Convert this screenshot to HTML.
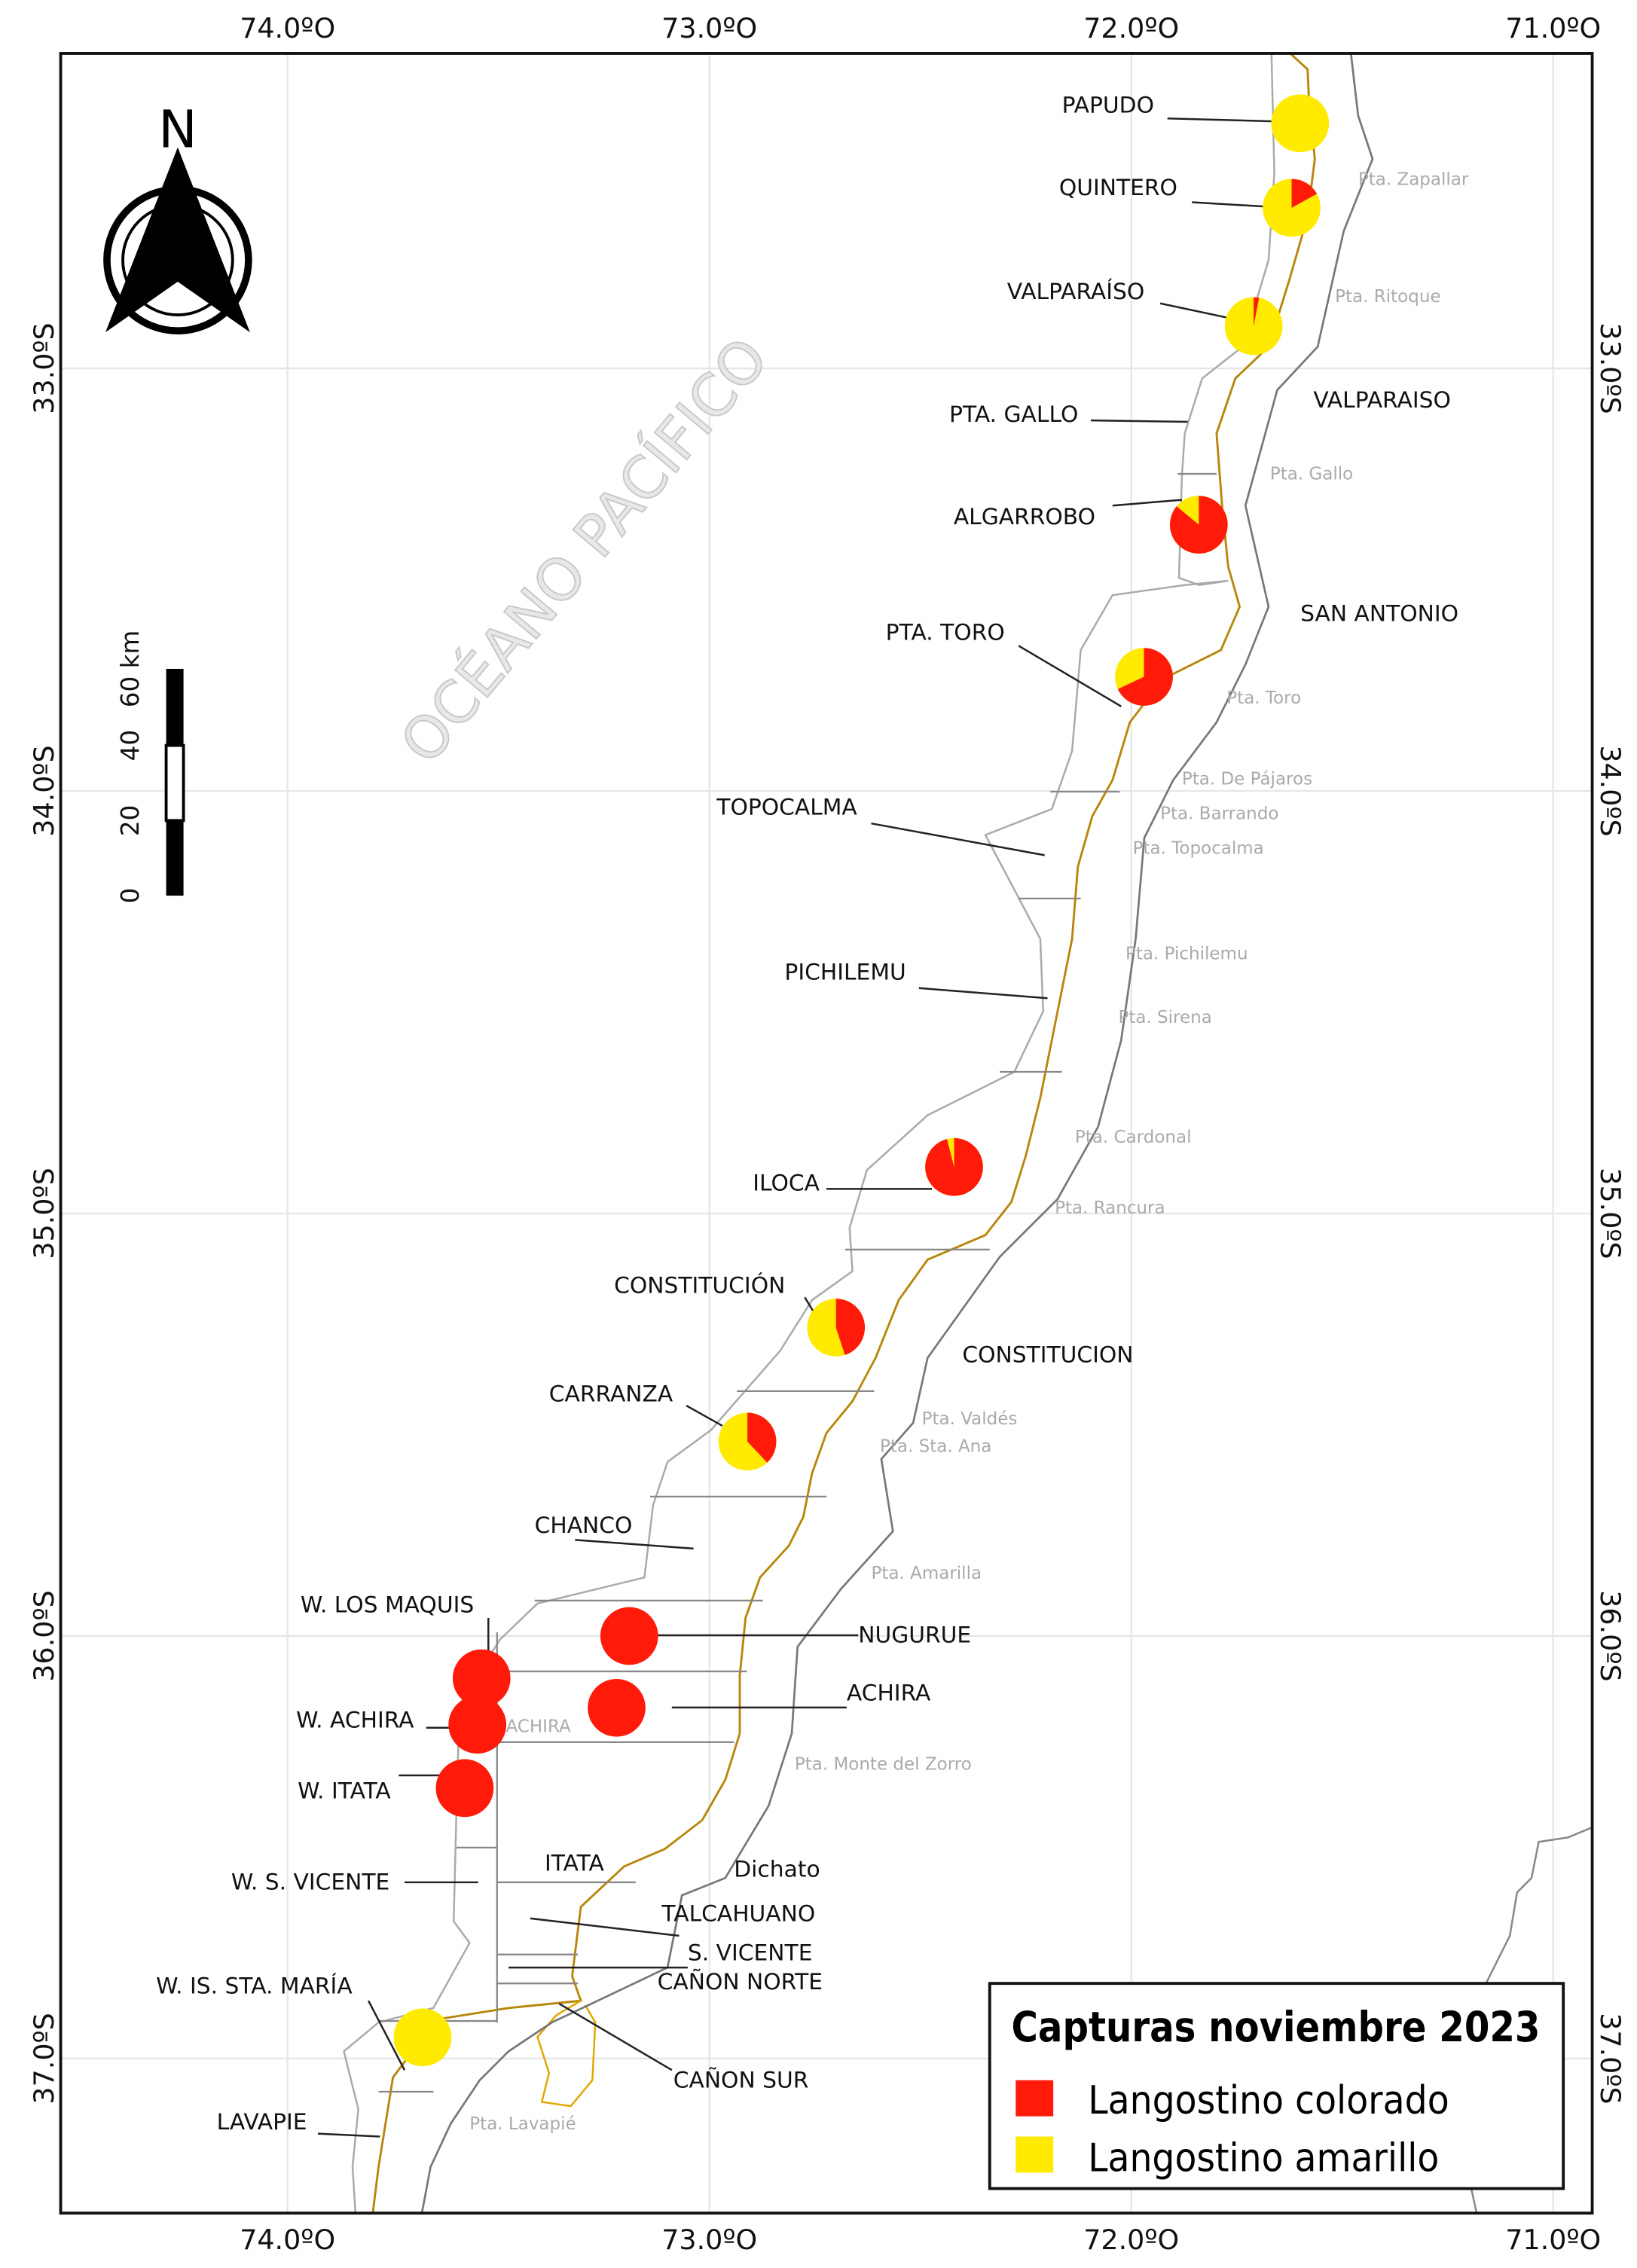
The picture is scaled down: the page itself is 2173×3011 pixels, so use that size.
<!DOCTYPE html>
<html><head><meta charset="utf-8"><style>
html,body{margin:0;padding:0;background:#fff}
svg{display:block}
text{font-family:"DejaVu Sans","Liberation Sans",sans-serif}
</style></head><body>
<svg id="map" width="2173" height="3011" viewBox="0 0 1133 1570" preserveAspectRatio="none" xmlns="http://www.w3.org/2000/svg">
<rect width="1133" height="1570" fill="#fff"/>
<g id="grid" stroke="#e6e6e6" stroke-width="1.2"></g>
<g fill="none">
<polyline stroke="#aaa" stroke-width="1.3" points="880,37 882,120 878,180 860,240 832,262 820,300 818,330 816,400 830,405 850,402 820,405 770,412 748,450 742,520 728,560 682,578 700,612 720,650 722,700 702,742 642,772 600,810 588,850 590,880 562,900 540,935 492,990 462,1012 452,1042 446,1092 372,1110 346,1135 318,1180 316,1250 314,1330 325,1345 300,1390 262,1400 238,1420 248,1460 244,1500 246,1532"/>
<polyline stroke="#b8860b" stroke-width="1.5" points="893,37 905,48 906,70 910,110 905,150 892,195 878,240 855,262 842,300 846,352 850,392 858,420 845,450 805,470 782,500 770,540 756,565 746,600 742,650 732,700 720,760 710,800 700,832 682,855 642,872 622,900 606,940 590,970 572,992 562,1020 556,1050 546,1070 526,1092 516,1120 512,1160 512,1200 502,1232 486,1260 460,1280 432,1292 402,1320 396,1368 402,1385 352,1390 302,1398 272,1438 262,1500 258,1532"/>
<polyline stroke="#e0a800" stroke-width="1.3" points="402,1385 385,1395 372,1410 380,1435 375,1455 395,1458 410,1440 412,1400 405,1388"/>
<polyline stroke="#777" stroke-width="1.4" points="935,37 940,80 950,110 930,160 912,240 884,270 862,350 878,420 862,460 842,500 812,540 792,580 786,650 776,720 760,780 732,830 692,870 642,940 632,985 610,1010 618,1060 582,1100 552,1140 548,1200 532,1250 502,1300 472,1312 462,1362 420,1382 382,1400 352,1420 332,1440 312,1470 298,1500 292,1532"/>
<polyline stroke="#888" stroke-width="1.3" points="1102,1265 1085,1272 1065,1275 1060,1300 1050,1310 1045,1340 1025,1380 1010,1440 1015,1500 1022,1532"/>
</g>
<g stroke="#888" stroke-width="1.2">
<line x1="815" y1="328" x2="842" y2="328"/><line x1="727" y1="548" x2="775" y2="548"/><line x1="705" y1="622" x2="748" y2="622"/><line x1="692" y1="742" x2="735" y2="742"/><line x1="585" y1="865" x2="685" y2="865"/><line x1="510" y1="963" x2="605" y2="963"/><line x1="450" y1="1036" x2="572" y2="1036"/><line x1="370" y1="1108" x2="528" y2="1108"/><line x1="345" y1="1157" x2="517" y2="1157"/><line x1="345" y1="1206" x2="508" y2="1206"/><line x1="344" y1="1130" x2="344" y2="1400"/><line x1="316" y1="1279" x2="344" y2="1279"/><line x1="344" y1="1303" x2="440" y2="1303"/><line x1="344" y1="1353" x2="400" y2="1353"/><line x1="344" y1="1373" x2="400" y2="1373"/><line x1="262" y1="1399" x2="344" y2="1399"/><line x1="262" y1="1448" x2="300" y2="1448"/>
</g>
<text transform="translate(415,390) rotate(-50)" text-anchor="middle" font-size="40" fill="#e8e8e8" stroke="#c8c8c8" stroke-width="1">OCÉANO PACÍFICO</text>
<g id="placelabels" font-size="12" fill="#aaa"></g>
<g id="leaders" stroke="#222" stroke-width="1.3"></g>
<g id="pies"></g>
<g id="zlabels" font-size="15.5" fill="#111"></g>
<rect x="42" y="37" width="1060" height="1495" fill="none" stroke="#111" stroke-width="2"/>
<g id="ticks" font-size="19" fill="#111"></g>
<g>
<text x="123" y="102" font-size="36" text-anchor="middle" fill="#000">N</text>
<circle cx="123" cy="180" r="49" fill="none" stroke="#000" stroke-width="5"/>
<circle cx="123" cy="180" r="38" fill="none" stroke="#000" stroke-width="2"/>
<polygon points="123,102 173,230 123,195 73,230" fill="#000"/>
</g>
<g>
<rect x="115" y="463" width="12" height="53" fill="#000"/><rect x="115" y="516" width="12" height="52" fill="#fff" stroke="#000" stroke-width="2"/><rect x="115" y="568" width="12" height="52" fill="#000"/>
<g font-size="17" fill="#111">
<text transform="translate(96,620) rotate(-90)" text-anchor="middle">0</text>
<text transform="translate(96,568) rotate(-90)" text-anchor="middle">20</text>
<text transform="translate(96,516) rotate(-90)" text-anchor="middle">40</text>
<text transform="translate(96,463) rotate(-90)" text-anchor="middle">60 km</text>
</g></g>
<g>
<rect x="685" y="1373" width="397" height="142" fill="#fff" stroke="#111" stroke-width="2"/>
<text x="700" y="1413" font-family="Liberation Sans" font-weight="bold" font-size="29" fill="#000" textLength="366" lengthAdjust="spacingAndGlyphs">Capturas noviembre 2023</text>
<rect x="703" y="1440" width="26" height="25" fill="#ff1a0a"/>
<text x="753" y="1463" font-size="27" fill="#000" textLength="250" lengthAdjust="spacingAndGlyphs">Langostino colorado</text>
<rect x="703" y="1479" width="26" height="25" fill="#ffea00"/>
<text x="753" y="1503" font-size="27" fill="#000" textLength="243" lengthAdjust="spacingAndGlyphs">Langostino amarillo</text>
</g>
</svg>
<script>
const siteNames=["PAPUDO","QUINTERO","VALPARAÍSO","ALGARROBO","PTA. TORO","ILOCA","CONSTITUCIÓN","CARRANZA","NUGURUE","ACHIRA","W. LOS MAQUIS","W. ACHIRA","W. ITATA","W. IS. STA. MARÍA"];
const siteLon=[71.60,71.62,71.71,71.84,71.97,72.42,72.70,72.91,73.19,73.22,73.54,73.55,73.58,73.68];
const siteLat=[32.42,32.62,32.90,33.37,33.73,34.89,35.27,35.54,36.00,36.17,36.10,36.21,36.36,36.95];
const coloradoShare=[0,0.17,0.03,0.86,0.68,0.96,0.45,0.38,1,1,1,1,1,0];
const lonTicks=[74,73,72,71];
const latTicks=[33,34,35,36,37];
const NS="http://www.w3.org/2000/svg";
function xS(lon){return 199+(74-lon)*292;}
function yS(lat){return 255+(lat-33)*292.5;}
function mk(tag,attrs,parent){const e=document.createElementNS(NS,tag);for(const k in attrs)e.setAttribute(k,attrs[k]);parent.appendChild(e);return e;}
const grid=document.getElementById('grid'),ticks=document.getElementById('ticks');
lonTicks.forEach(l=>{const x=xS(l);
 const g=mk('line',{x1:x,y1:37,x2:x,y2:1532},grid);
 
 
 [26,1557].forEach(y=>{const t=mk('text',{x:x,y:y,'text-anchor':'middle'},ticks);t.textContent=l.toFixed(1)+'ºO';
 
 });});
latTicks.forEach(l=>{const y=yS(l);
 const g=mk('line',{x1:42,y1:y,x2:1102,y2:y},grid);
 
 
 const t1=mk('text',{transform:`translate(37,${y}) rotate(-90)`,'text-anchor':'middle'},ticks);t1.textContent=l.toFixed(1)+'ºS';
 
 
 const t2=mk('text',{transform:`translate(1108,${y}) rotate(90)`,'text-anchor':'middle'},ticks);t2.textContent=l.toFixed(1)+'ºS';
 
 });
const pies=document.getElementById('pies');const R=20;
siteNames.forEach((n,i)=>{const cx=xS(siteLon[i]),cy=yS(siteLat[i]),f=coloradoShare[i];
 const g=mk('g',{},pies);
 
 
 if(f<=0){mk('circle',{cx,cy,r:R,fill:'#ffea00'},g);return;}
 if(f>=1){mk('circle',{cx,cy,r:R,fill:'#ff1a0a'},g);return;}
 mk('circle',{cx,cy,r:R,fill:'#ffea00'},g);
 const a=f*2*Math.PI,ex=cx+R*Math.sin(a),ey=cy-R*Math.cos(a);
 mk('path',{d:`M${cx},${cy} L${cx},${cy-R} A${R},${R} 0 ${f>0.5?1:0} 1 ${ex},${ey} Z`,fill:'#ff1a0a'},g);});
const zl=[["PAPUDO",735,78,808,82,882,84],["QUINTERO",733,135,825,140,876,143],["VALPARAÍSO",697,207,803,210,850,220],["PTA. GALLO",657,292,755,291,822,292],["ALGARROBO",660,363,770,350,818,346],["PTA. TORO",613,443,705,447,776,489],["TOPOCALMA",496,564,603,570,723,592],["PICHILEMU",543,678,636,684,725,691],["ILOCA",521,824,572,823,645,823],["CONSTITUCIÓN",425,895,557,898,563,908],["CARRANZA",380,970,475,973,500,987],["CHANCO",370,1061,398,1066,480,1072],["W. LOS MAQUIS",208,1116,338,1120,338,1145],["NUGURUE",594,1137,455,1132,594,1132],["ACHIRA",586,1177,465,1182,586,1182],["W. ACHIRA",205,1196,295,1196,312,1196],["W. ITATA",206,1245,276,1229,305,1229],["ITATA",377,1295,0,0,0,0],["W. S. VICENTE",160,1308,280,1303,331,1303],["TALCAHUANO",458,1330,367,1328,470,1340],["S. VICENTE",476,1357,352,1362,476,1362],["CAÑON NORTE",455,1377,0,0,0,0],["W. IS. STA. MARÍA",108,1380,255,1385,280,1433],["CAÑON SUR",466,1445,387,1387,465,1433],["LAVAPIE",150,1474,220,1477,263,1479],["SAN ANTONIO",900,430,0,0,0,0],["VALPARAISO",909,282,0,0,0,0],["CONSTITUCION",666,943,0,0,0,0],["Dichato",508,1299,0,0,0,0]];
const zg=document.getElementById('zlabels'),lg=document.getElementById('leaders');
zl.forEach(z=>{const t=mk('text',{x:z[1],y:z[2]},zg);t.textContent=z[0];
 
 
 if(z[3]||z[5]){const l=mk('line',{x1:z[3],y1:z[4],x2:z[5],y2:z[6]},lg);
 
 }});
const pl=[["Pta. Zapallar",940,128],["Pta. Ritoque",924,209],["Pta. Gallo",879,332],["Pta. Toro",849,487],["Pta. De Pájaros",818,543],["Pta. Barrando",803,567],["Pta. Topocalma",784,591],["Pta. Pichilemu",779,664],["Pta. Sirena",774,708],["Pta. Cardonal",744,791],["Pta. Rancura",730,840],["Pta. Valdés",638,986],["Pta. Sta. Ana",609,1005],["Pta. Amarilla",603,1093],["Pta. Monte del Zorro",550,1225],["W. ACHIRA",332,1199],["Pta. Lavapié",325,1474]];
const pg=document.getElementById('placelabels');
pl.forEach(p=>{const t=mk('text',{x:p[1],y:p[2]},pg);t.textContent=p[0];
 
 });
</script>
</body></html>
